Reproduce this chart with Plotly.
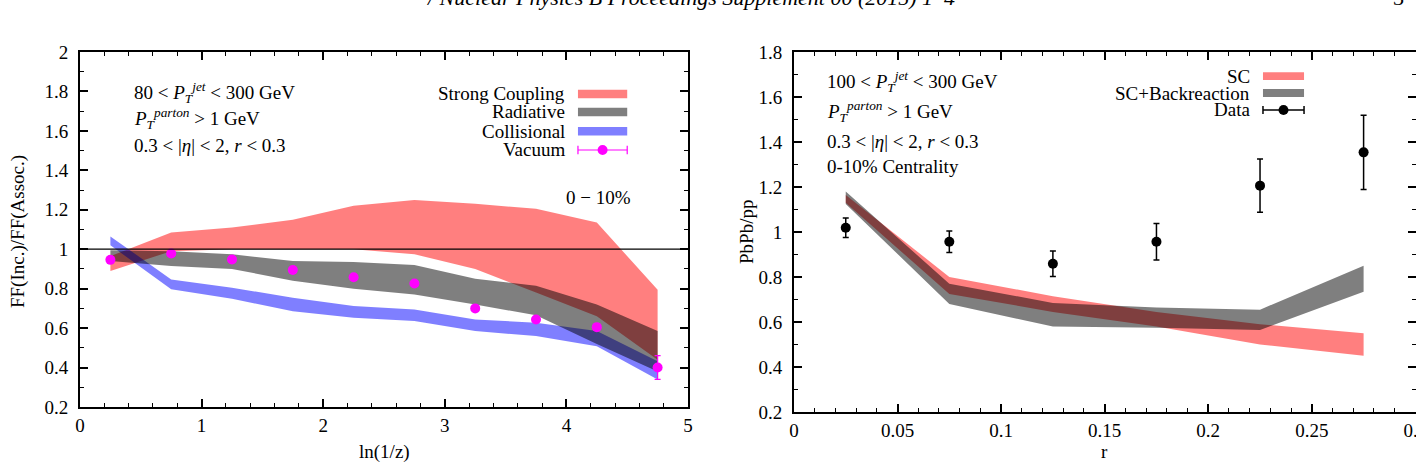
import plotly.graph_objects as go

# ---------------- data: left panel ----------------
lnz = [0.25, 0.75, 1.25, 1.75, 2.25, 2.75, 3.25, 3.75, 4.25, 4.75]
sc_lo = [0.89, 0.99, 1.00, 1.00, 1.00, 0.975, 0.90, 0.78, 0.66, 0.44]
sc_hi = [0.965, 1.085, 1.11, 1.15, 1.22, 1.25, 1.23, 1.205, 1.135, 0.795]
rad_lo = [0.94, 0.915, 0.90, 0.84, 0.80, 0.77, 0.72, 0.665, 0.52, 0.38]
rad_hi = [0.995, 0.99, 0.975, 0.94, 0.935, 0.92, 0.85, 0.815, 0.72, 0.585]
col_lo = [1.02, 0.797, 0.749, 0.686, 0.653, 0.636, 0.585, 0.56, 0.508, 0.339]
col_hi = [1.065, 0.847, 0.805, 0.754, 0.712, 0.695, 0.644, 0.627, 0.585, 0.432]
vac_y = [0.946, 0.978, 0.948, 0.895, 0.858, 0.826, 0.70, 0.644, 0.605, 0.40]
vac_err = [0.01, 0.01, 0.01, 0.01, 0.01, 0.01, 0.01, 0.01, 0.015, 0.06]

# ---------------- data: right panel ----------------
r = [0.025, 0.075, 0.125, 0.175, 0.225, 0.275]
sc_r_lo = [1.13, 0.725, 0.645, 0.58, 0.50, 0.45]
sc_r_hi = [1.165, 0.80, 0.715, 0.645, 0.59, 0.55]
br_lo = [1.125, 0.68, 0.58, 0.575, 0.565, 0.735]
br_hi = [1.18, 0.77, 0.685, 0.665, 0.655, 0.85]
data_y = [1.019, 0.957, 0.859, 0.957, 1.206, 1.354]
data_err = [0.043, 0.048, 0.057, 0.081, 0.118, 0.165]

RED = "rgba(255,0,0,0.5)"
GRAY = "rgba(0,0,0,0.5)"
BLUE = "rgba(0,0,255,0.5)"
MAG = "#ff00ff"
FONT = "Liberation Serif"

fig = go.Figure()


def band(x, lo, hi, color, xa, ya):
    fig.add_trace(go.Scatter(x=x, y=lo, mode="lines", line=dict(width=0),
                             showlegend=False, hoverinfo="skip", xaxis=xa, yaxis=ya))
    fig.add_trace(go.Scatter(x=x, y=hi, mode="lines", line=dict(width=0),
                             fill="tonexty", fillcolor=color,
                             showlegend=False, hoverinfo="skip", xaxis=xa, yaxis=ya))


band(lnz, sc_lo, sc_hi, RED, "x", "y")
band(lnz, col_lo, col_hi, BLUE, "x", "y")
band(lnz, rad_lo, rad_hi, GRAY, "x", "y")
fig.add_trace(go.Scatter(x=lnz, y=vac_y, mode="markers",
                         marker=dict(color=MAG, size=10),
                         error_y=dict(type="data", array=vac_err, color=MAG,
                                      thickness=1.2, width=3),
                         showlegend=False, xaxis="x", yaxis="y"))

band(r, sc_r_lo, sc_r_hi, RED, "x2", "y2")
band(r, br_lo, br_hi, GRAY, "x2", "y2")
fig.add_trace(go.Scatter(x=r, y=data_y, mode="markers",
                         marker=dict(color="black", size=10),
                         error_y=dict(type="data", array=data_err, color="black",
                                      thickness=1.5, width=3),
                         showlegend=False, xaxis="x2", yaxis="y2"))

axis_common = dict(showline=True, linewidth=2, linecolor="black", mirror="ticks",
                   ticks="inside", ticklen=8, tickwidth=1.5, tickcolor="black",
                   showgrid=False, zeroline=False, automargin=False,
                   tickfont=dict(family=FONT, size=19, color="black"))

fig.update_layout(
    width=1416, height=464,
    margin=dict(l=80, r=0, t=52, b=52, autoexpand=False),
    paper_bgcolor="white", plot_bgcolor="white",
    showlegend=False,
    xaxis=dict(domain=[0, 0.4551], range=[0, 5], dtick=1, tick0=0, anchor="y",
               minor=dict(dtick=0.2, ticks="inside", ticklen=4, tickwidth=1, tickcolor="black"),
               **axis_common),
    yaxis=dict(domain=[5 / 360, 1], range=[0.2, 2], dtick=0.2, tick0=0.2, anchor="x",
               minor=dict(dtick=0.1, ticks="inside", ticklen=4, tickwidth=1, tickcolor="black"),
               ticklabelstandoff=6, **axis_common),
    xaxis2=dict(domain=[0.5344, 1], range=[0, 0.3003], dtick=0.05, tick0=0, anchor="y2",
                minor=dict(dtick=0.01, ticks="inside", ticklen=4, tickwidth=1, tickcolor="black"),
                ticklabeloverflow="allow", **axis_common),
    yaxis2=dict(domain=[0, 1], range=[0.2, 1.8], dtick=0.2, tick0=0.2, anchor="x2",
                minor=dict(dtick=0.1, ticks="inside", ticklen=4, tickwidth=1, tickcolor="black"),
                ticklabelstandoff=6, **axis_common),
)

shapes = []
ann = []
tf = dict(family=FONT, size=19, color="black")

# reference line y=1 on left panel
shapes.append(dict(type="line", xref="x domain", yref="y", x0=0, x1=1, y0=1, y1=1,
                   line=dict(color="black", width=1.2), layer="above"))

# ---- left legend ----
left_rows = [("Strong Coupling", RED), ("Radiative", GRAY), ("Collisional", BLUE), ("Vacuum", None)]
row_y = [0.882, 0.831, 0.777, 0.724]
for (lab, col), yy in zip(left_rows, row_y):
    ann.append(dict(text=lab, xref="x domain", yref="y domain", x=0.801, y=yy,
                    xanchor="right", yanchor="middle", showarrow=False, font=tf))
    if col:
        shapes.append(dict(type="rect", xref="x domain", yref="y domain",
                           x0=0.819, x1=0.900, y0=yy - 0.012, y1=yy + 0.012,
                           fillcolor=col, line=dict(width=0)))
    else:
        shapes.append(dict(type="line", xref="x domain", yref="y domain",
                           x0=0.819, x1=0.900, y0=yy, y1=yy, line=dict(color=MAG, width=1.2)))
        for xe in (0.819, 0.900):
            shapes.append(dict(type="line", xref="x domain", yref="y domain",
                               x0=xe, x1=xe, y0=yy - 0.012, y1=yy + 0.012,
                               line=dict(color=MAG, width=1.2)))
        shapes.append(dict(type="circle", xref="x domain", yref="y domain",
                           x0=0.8595 - 0.0082, x1=0.8595 + 0.0082, y0=yy - 0.014, y1=yy + 0.014,
                           fillcolor=MAG, line=dict(width=0)))

ann.append(dict(text="0 − 10%", xref="x domain", yref="y domain", x=0.852, y=0.589,
                xanchor="center", yanchor="middle", showarrow=False, font=tf))

# left condition text
left_txt = ["80 < <i>P</i><sub><i>T</i></sub><sup><i>jet</i></sup> < 300 GeV",
            "<i>P</i><sub><i>T</i></sub><sup><i>parton</i></sup> > 1 GeV",
            "0.3 < |<i>η</i>| < 2, <i>r</i> < 0.3"]
for t, yy in zip(left_txt, [0.887, 0.814, 0.738]):
    ann.append(dict(text=t, xref="x domain", yref="y domain", x=0.085, y=yy,
                    xanchor="left", yanchor="middle", showarrow=False, font=tf))

# ---- right legend ----
right_rows = [("SC", RED), ("SC+Backreaction", GRAY), ("Data", None)]
rrow_y = [0.933, 0.886, 0.839]
for (lab, col), yy in zip(right_rows, rrow_y):
    ann.append(dict(text=lab, xref="x2 domain", yref="y2 domain", x=0.736, y=yy,
                    xanchor="right", yanchor="middle", showarrow=False, font=tf))
    if col:
        shapes.append(dict(type="rect", xref="x2 domain", yref="y2 domain",
                           x0=0.754, x1=0.820, y0=yy - 0.011, y1=yy + 0.011,
                           fillcolor=col, line=dict(width=0)))
    else:
        shapes.append(dict(type="line", xref="x2 domain", yref="y2 domain",
                           x0=0.754, x1=0.820, y0=yy, y1=yy, line=dict(color="black", width=1.5)))
        for xe in (0.754, 0.820):
            shapes.append(dict(type="line", xref="x2 domain", yref="y2 domain",
                               x0=xe, x1=xe, y0=yy - 0.011, y1=yy + 0.011,
                               line=dict(color="black", width=1.5)))
        shapes.append(dict(type="circle", xref="x2 domain", yref="y2 domain",
                           x0=0.787 - 0.008, x1=0.787 + 0.008, y0=yy - 0.014, y1=yy + 0.014,
                           fillcolor="black", line=dict(width=0)))

right_txt = ["100 < <i>P</i><sub><i>T</i></sub><sup><i>jet</i></sup> < 300 GeV",
             "<i>P</i><sub><i>T</i></sub><sup><i>parton</i></sup> > 1 GeV",
             "0.3 < |<i>η</i>| < 2, <i>r</i> < 0.3",
             "0-10% Centrality"]
for t, yy in zip(right_txt, [0.919, 0.836, 0.752, 0.681]):
    ann.append(dict(text=t, xref="x2 domain", yref="y2 domain", x=0.05, y=yy,
                    xanchor="left", yanchor="middle", showarrow=False, font=tf))

# axis titles
ann.append(dict(text="FF(Inc.)/FF(Assoc.)", xref="paper", yref="paper", x=-0.0464, y=0.5,
                xanchor="center", yanchor="middle", textangle=-90, showarrow=False, font=tf))
ann.append(dict(text="ln(1/z)", xref="x domain", yref="paper", x=0.5, y=-0.11,
                xanchor="center", yanchor="middle", showarrow=False, font=tf))
ann.append(dict(text="PbPb/pp", xref="paper", yref="paper", x=(746 - 80) / 1336, y=0.5,
                xanchor="center", yanchor="middle", textangle=-90, showarrow=False, font=tf))
ann.append(dict(text="r", xref="x2 domain", yref="paper", x=0.5, y=-0.11,
                xanchor="center", yanchor="middle", showarrow=False, font=tf))

# running header (clipped at page top)
hf = dict(family=FONT, size=22, color="black")
ann.append(dict(text="<i>/ Nuclear Physics B Proceedings Supplement 00 (2015) 1–4</i>",
                xref="paper", yref="paper", x=(690 - 80) / 1336, y=1 + 55 / 360,
                xanchor="center", yanchor="middle", showarrow=False, font=hf))
ann.append(dict(text="3", xref="paper", yref="paper", x=(1398 - 80) / 1336, y=1 + 55 / 360,
                xanchor="center", yanchor="middle", showarrow=False, font=hf))

fig.update_layout(shapes=shapes, annotations=ann)
fig.write_html("out.html")
